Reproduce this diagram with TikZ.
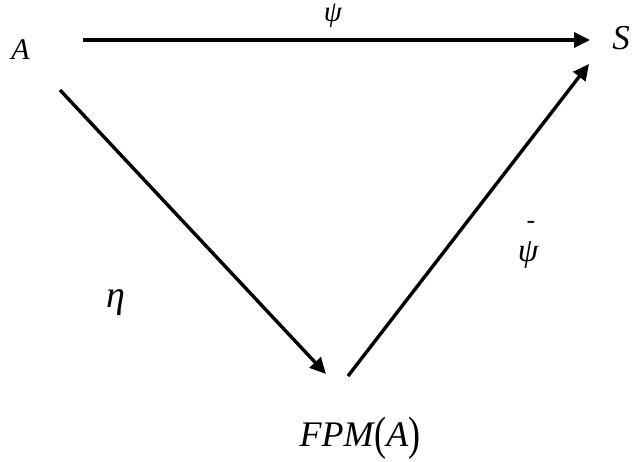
\documentclass[tikz,border=0pt]{standalone}
\usepackage{fontspec}
\setmainfont{Liberation Serif}
\usetikzlibrary{arrows.meta}
\newcommand{\fsz}[1]{\fontsize{#1}{#1}\selectfont\itshape}
\begin{document}
\begin{tikzpicture}[x=1pt,y=-1pt,
  lbl/.style={inner sep=0pt,outer sep=0pt},
  arr/.style={line width=3.4pt,-{Triangle[length=16pt,width=15pt]}}]
\useasboundingbox (0,0) rectangle (632,462);
% labels
\node[lbl] (A) at (20.5,49.5) {\fsz{30}A};
\node[lbl] (S) at (621,38.5) {\fsz{35}S};
\node[lbl,anchor=base] (psi) at (333,22) {\fsz{29}ψ};
\node[lbl] (eta) at (116,303) {\fsz{38}η};
\node[lbl,anchor=base] (psib) at (528,262) {\fsz{33}ψ\makebox[0pt][r]{\smash{\raisebox{33pt}{\upshape\fontsize{26}{26}\selectfont -}}\hspace{3pt}}};
\node[lbl,anchor=base] (F) at (360,446) {\fsz{36}FPM\kern1pt\raisebox{-3pt}{\scalebox{1}[1.3]{\upshape(}}A\raisebox{-3pt}{\scalebox{1}[1.3]{\upshape)}}};
% endpoints
\coordinate (t1) at (83,40);
\coordinate (t2) at (590,40);
\coordinate (l1) at (60,90);
\coordinate (l2) at (326,374);
\coordinate (r1) at (348,376);
\coordinate (r2) at (589,64);
\draw[arr] (t1) -- (t2);
\draw[arr] (l1) -- (l2);
\draw[arr] (r1) -- (r2);
\end{tikzpicture}
\end{document}
